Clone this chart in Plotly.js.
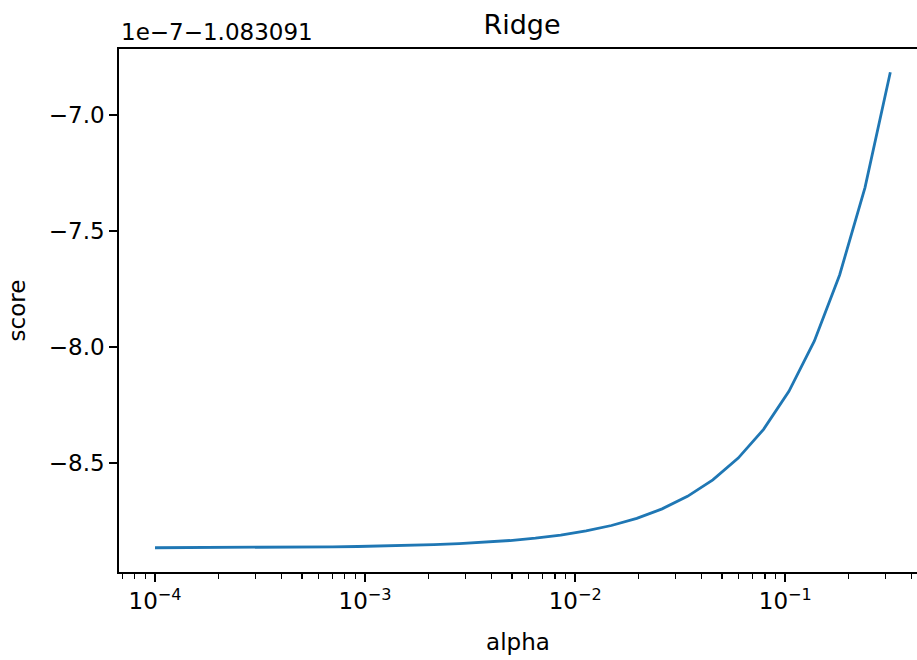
<!DOCTYPE html>
<html>
<head>
<meta charset="utf-8">
<script src="https://cdn.plot.ly/plotly-3.0.1.min.js"></script>
<style>html,body{margin:0;padding:0;background:#fff;}#chart{width:917px;height:660px;}</style>
</head>
<body>
<div id="chart"></div>
<script>
// alpha values (log spaced)
const alpha = [0.0001, 0.000132, 0.0001743, 0.0002302, 0.0003039, 0.0004012, 0.0005298, 0.0006995,
  0.0009236, 0.0012195, 0.00161, 0.002126, 0.002807, 0.003707, 0.004894, 0.006462, 0.008532,
  0.011266, 0.014875, 0.01964, 0.02593, 0.03424, 0.04521, 0.0597, 0.07882, 0.10407, 0.13741,
  0.18144, 0.23956, 0.31623];
// score in units of 1e-7, offset by -1.083091
const score = [-8.8654, -8.8651, -8.8649, -8.8645, -8.8640, -8.8634, -8.8626, -8.8615,
  -8.8600, -8.8581, -8.8556, -8.8522, -8.8478, -8.8420, -8.8343, -8.8241, -8.8107,
  -8.7930, -8.7696, -8.7387, -8.6979, -8.6440, -8.5729, -8.4789, -8.3549, -8.1912, -7.9750,
  -7.6895, -7.3127, -6.8156];
const xTickVals = [1e-4, 1e-3, 1e-2, 1e-1];
const xTickText = ['10<sup>\u22124</sup>', '10<sup>\u22123</sup>', '10<sup>\u22122</sup>', '10<sup>\u22121</sup>'];
const yTickVals = [-7.0, -7.5, -8.0, -8.5];
const yTickText = ['\u22127.0', '\u22127.5', '\u22128.0', '\u22128.5'];
const offsetText = '1e\u22127\u22121.083091';

const font = 'DejaVu Sans, Verdana, sans-serif';

Plotly.newPlot('chart', [{
  x: alpha, y: score, type: 'scatter', mode: 'lines',
  line: {color: '#1f77b4', width: 2.8}, showlegend: false, hoverinfo: 'skip'
}], {
  width: 917, height: 660,
  margin: {l: 119, r: 0, t: 49, b: 88, pad: 0},
  paper_bgcolor: '#fff', plot_bgcolor: '#fff',
  font: {family: font, size: 23, color: '#000'},
  title: {text: 'Ridge', font: {family: font, size: 27, color: '#000'},
    x: 0.505, xanchor: 'center', xref: 'paper', yref: 'container', y: 1 - 25/660, yanchor: 'middle'},
  xaxis: {
    type: 'log', range: [-4.1714, -0.373], autorange: false,
    showline: true, linecolor: '#000', linewidth: 1.8, mirror: true,
    showgrid: false, zeroline: false,
    tickmode: 'array', tickvals: xTickVals, ticktext: xTickText,
    ticks: 'outside', ticklen: 8, tickwidth: 1.8, tickcolor: '#000',
    tickfont: {family: font, size: 23, color: '#000'},
    minor: {ticks: 'outside', ticklen: 5, tickwidth: 1.4, tickcolor: '#000', dtick: 'D1', showgrid: false},
    title: {text: 'alpha', font: {family: font, size: 23, color: '#000'}, standoff: 20}
  },
  yaxis: {
    range: [-8.970, -6.7155], autorange: false,
    showline: true, linecolor: '#000', linewidth: 1.8, mirror: false,
    showgrid: false, zeroline: false,
    tickmode: 'array', tickvals: yTickVals, ticktext: yTickText,
    ticks: 'outside', ticklen: 8, tickwidth: 1.8, tickcolor: '#000',
    tickfont: {family: font, size: 23, color: '#000'},
    title: {text: 'score', font: {family: font, size: 23, color: '#000'}, standoff: 17}
  },
  annotations: [{
    text: offsetText, xref: 'paper', yref: 'paper', x: 0, y: 1,
    xanchor: 'left', yanchor: 'bottom', showarrow: false, yshift: 2,
    font: {family: font, size: 23, color: '#000'}
  }]
}, {displayModeBar: false, staticPlot: true});
</script>
</body>
</html>
